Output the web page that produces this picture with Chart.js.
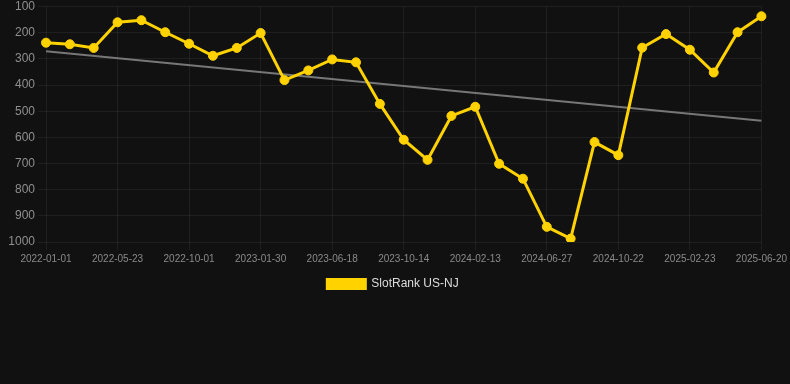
<!DOCTYPE html>
<html>
<head>
<meta charset="utf-8">
<script src="https://cdn.jsdelivr.net/npm/chart.js@4.4.1/dist/chart.umd.min.js"></script>
<style>
  html, body { margin: 0; padding: 0; background: #111111; }
  #wrap { width: 790px; height: 300px; position: relative; }
</style>
</head>
<body>
<div id="wrap"><canvas id="c"></canvas></div>
<script>
const categories = [
  "2022-01-01","2022-02-17","2022-04-05","2022-05-23","2022-07-05","2022-08-18",
  "2022-10-01","2022-11-10","2022-12-20","2023-01-30","2023-03-17","2023-05-02",
  "2023-06-18","2023-07-27","2023-09-05","2023-10-14","2023-11-24","2024-01-03",
  "2024-02-13","2024-03-28","2024-05-12","2024-06-27","2024-08-05","2024-09-13",
  "2024-10-22","2024-12-02","2025-01-12","2025-02-23","2025-04-02","2025-05-11",
  "2025-06-20"
];
const rankValues = [
  238, 244, 258, 160, 152, 198, 242, 288, 258, 201, 381, 344,
  302, 313, 472, 609, 686, 518, 483, 701, 758, 942, 987, 618,
  668, 257, 205, 265, 352, 198, 137
];
const trendStart = 271;
const trendEnd = 536;
const trendValues = categories.map((_, i) =>
  i === 0 ? trendStart : (i === categories.length - 1 ? trendEnd : null));
const yTicks = [100, 200, 300, 400, 500, 600, 700, 800, 900, 1000];

Chart.defaults.font.family = '"Liberation Sans", Arial, Helvetica, sans-serif';

new Chart(document.getElementById('c'), {
  type: 'line',
  data: {
    labels: categories,
    datasets: [
      {
        label: 'SlotRank US-NJ',
        data: rankValues,
        borderColor: '#FFD200',
        backgroundColor: '#FFD200',
        borderWidth: 3,
        pointRadius: 4.5,
        pointBorderWidth: 1,
        pointBackgroundColor: '#FFD200',
        pointBorderColor: '#FFD200',
        tension: 0,
        order: 1
      },
      {
        label: 'trend',
        data: trendValues,
        spanGaps: true,
        borderColor: '#777777',
        borderWidth: 2,
        pointRadius: 0,
        pointHoverRadius: 0,
        tension: 0,
        order: 2
      }
    ]
  },
  options: {
    responsive: true,
    maintainAspectRatio: false,
    animation: false,
    layout: { padding: { left: 0, right: 4, top: 0, bottom: 0 } },
    plugins: {
      legend: {
        position: 'bottom',
        labels: {
          color: '#dddddd',
          font: { size: 12 },
          boxWidth: 38,
          boxHeight: 9,
          filter: (item) => item.text !== 'trend'
        }
      },
      tooltip: { enabled: false }
    },
    scales: {
      x: {
        grid: { color: 'rgba(255,255,255,0.06)', tickLength: 8 },
        border: { display: false },
        ticks: {
          color: '#8a8a8a',
          font: { size: 10 },
          maxRotation: 0,
          autoSkip: true,
          maxTicksLimit: 11
        }
      },
      y: {
        reverse: true,
        min: 100,
        max: 1000,
        afterBuildTicks: (axis) => { axis.ticks = yTicks.map(v => ({ value: v })); },
        afterFit: (axis) => { axis.width = 46; },
        grid: { color: 'rgba(255,255,255,0.06)', tickLength: 8 },
        border: { display: false },
        ticks: {
          color: '#8f8f8f',
          font: { size: 12, lineHeight: 0.6 },
          padding: 3,
          callback: (v) => String(v)
        }
      }
    }
  }
});
</script>
</body>
</html>
